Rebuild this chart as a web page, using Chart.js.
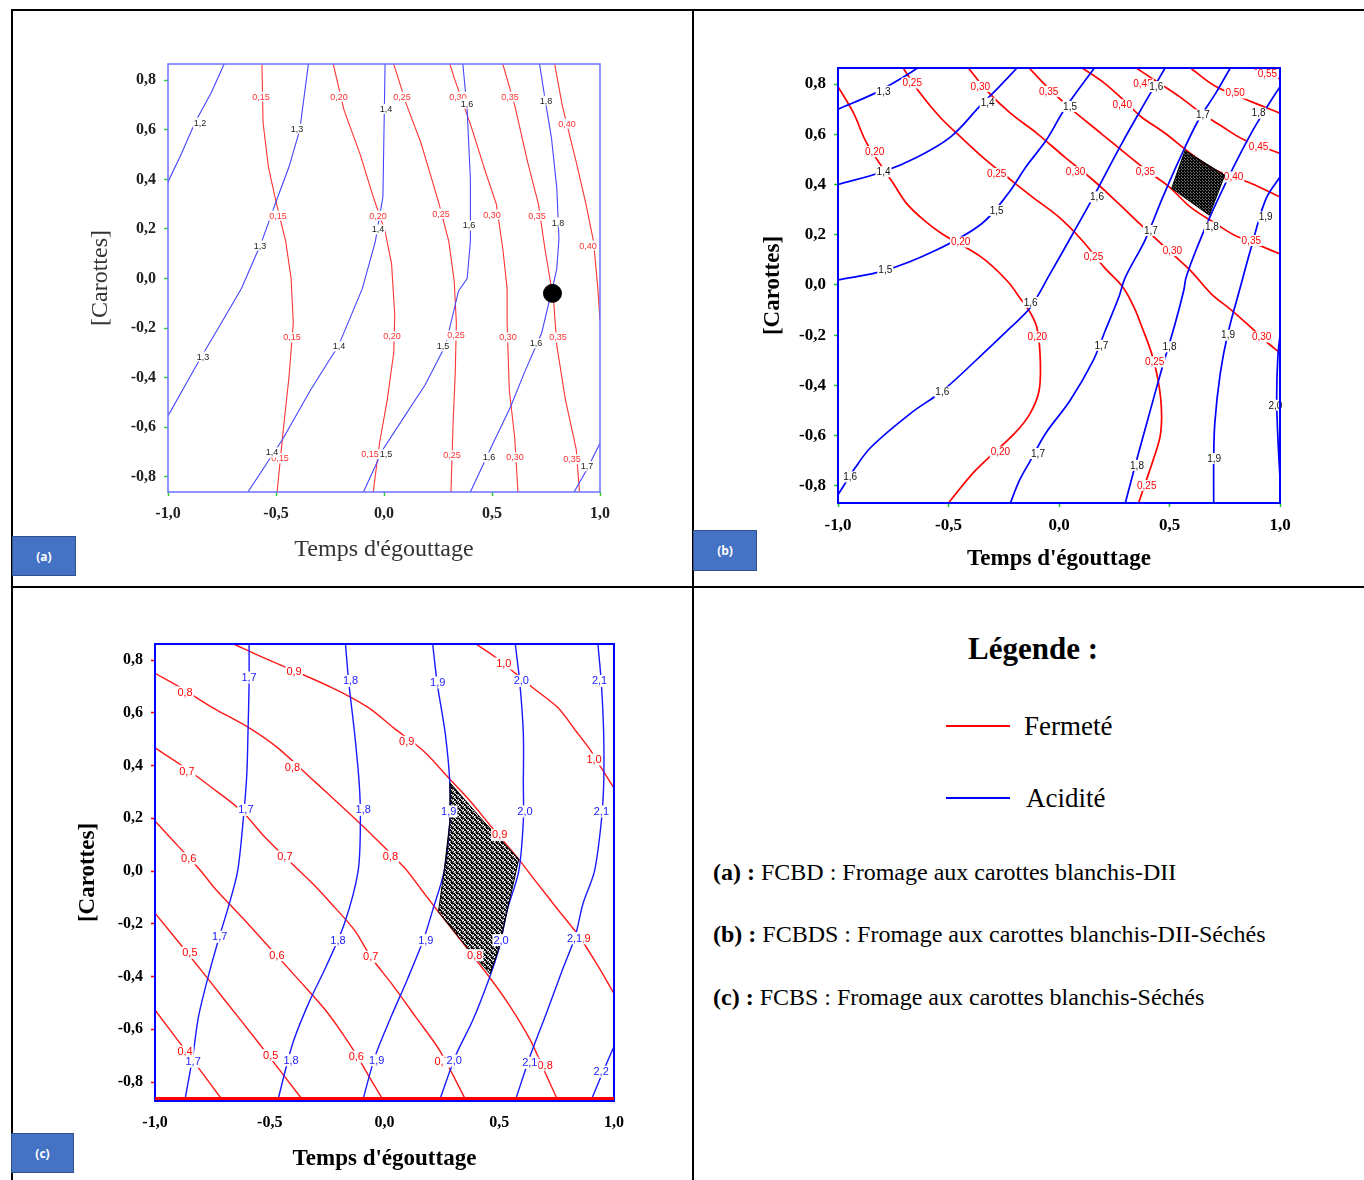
<!DOCTYPE html>
<html>
<head>
<meta charset="utf-8">
<script src="https://cdn.jsdelivr.net/npm/chart.js@4.4.1/dist/chart.umd.min.js"></script>
<style>
  body { margin: 0; width: 1364px; height: 1180px; position: relative; overflow: hidden; background: #fff; font-family: "Liberation Serif", serif; }
  .bl { position: absolute; background: #000; }
  .cv { position: absolute; }
  .tag { position: absolute; box-sizing: border-box; background: #4472c4; border: 1px solid #2f528f; color: #fff;
         font: bold 12px "Open Sans", "Liberation Sans", sans-serif; display: flex; align-items: center; justify-content: center; }
  .txt { position: absolute; white-space: nowrap; color: #000; }
  .key { position: absolute; width: 64px; height: 2px; }
</style>
</head>
<body>
<!-- table borders -->
<div class="bl" style="left:11px;top:9px;width:1353px;height:2px"></div>
<div class="bl" style="left:11px;top:9px;width:2px;height:1171px"></div>
<div class="bl" style="left:692px;top:9px;width:2px;height:1171px"></div>
<div class="bl" style="left:11px;top:586px;width:1353px;height:2px"></div>

<canvas id="ca" class="cv" width="620" height="550" style="left:40px;top:30px"></canvas>
<canvas id="cb" class="cv" width="620" height="550" style="left:700px;top:30px"></canvas>
<canvas id="cc" class="cv" width="640" height="570" style="left:20px;top:610px"></canvas>

<div class="tag" style="left:12px;top:536px;width:64px;height:40px">(a)</div>
<div class="tag" style="left:693px;top:530px;width:64px;height:41px">(b)</div>
<div class="tag" style="left:11px;top:1133px;width:63px;height:40px">(c)</div>

<!-- legend cell -->
<div class="txt" style="left:883px;top:631px;width:300px;text-align:center;font:bold 31px/36px 'Liberation Serif',serif">Légende :</div>
<div class="key" style="left:946px;top:725px;background:#ff0000"></div>
<div class="txt" style="left:1024px;top:710px;font:27px/32px 'Liberation Serif',serif">Fermeté</div>
<div class="key" style="left:946px;top:797px;background:#0000ff"></div>
<div class="txt" style="left:1026px;top:782px;font:27px/32px 'Liberation Serif',serif">Acidité</div>
<div class="txt" style="left:713px;top:857px;font:24px/30px 'Liberation Serif',serif"><b>(a) :</b> FCBD : Fromage aux carottes blanchis-DII</div>
<div class="txt" style="left:713px;top:919px;font:24px/30px 'Liberation Serif',serif"><b>(b) :</b> FCBDS : Fromage aux carottes blanchis-DII-Séchés</div>
<div class="txt" style="left:713px;top:982px;font:24px/30px 'Liberation Serif',serif"><b>(c) :</b> FCBS : Fromage aux carottes blanchis-Séchés</div>

<script>
// axes
const X_TICKS = [-1, -0.5, 0, 0.5, 1];
const Y_TICKS = [-0.8, -0.6, -0.4, -0.2, 0, 0.2, 0.4, 0.6, 0.8];
const X_TITLE = "Temps d'égouttage";
const Y_TITLE = "[Carottes]";

// ---- (a) FCBD ----
const aFermete = [ // 0,15 .. 0,40
  [[-0.565,0.866],[-0.56,0.63],[-0.535,0.45],[-0.50,0.31],[-0.455,0.15],[-0.43,0.0],[-0.42,-0.18],[-0.44,-0.4],[-0.455,-0.52],[-0.465,-0.6],[-0.495,-0.862]],
  [[-0.235,0.866],[-0.185,0.68],[-0.11,0.5],[-0.05,0.33],[0.005,0.19],[0.035,0.06],[0.05,-0.15],[0.045,-0.3],[0.015,-0.49],[-0.02,-0.66],[-0.05,-0.862]],
  [[0.045,0.866],[0.105,0.7],[0.17,0.55],[0.225,0.39],[0.255,0.3],[0.30,0.15],[0.325,-0.01],[0.335,-0.18],[0.33,-0.38],[0.32,-0.58],[0.31,-0.862]],
  [[0.305,0.866],[0.325,0.81],[0.405,0.61],[0.47,0.43],[0.52,0.3],[0.55,0.12],[0.57,-0.04],[0.57,-0.18],[0.58,-0.45],[0.605,-0.64],[0.62,-0.862]],
  [[0.55,0.866],[0.605,0.7],[0.665,0.47],[0.715,0.3],[0.745,0.12],[0.77,-0.01],[0.785,-0.085],[0.80,-0.27],[0.84,-0.49],[0.89,-0.69],[0.905,-0.862]],
  [[0.79,0.866],[0.825,0.7],[0.89,0.47],[0.935,0.3],[0.97,0.15],[0.99,-0.04],[1.0,-0.17]]
];
const aAcidite = [ // 1,2 .. 1,7
  [[-0.74,0.866],[-0.80,0.75],[-0.875,0.63],[-0.94,0.5],[-1.0,0.39]],
  [[-0.35,0.866],[-0.39,0.6],[-0.44,0.45],[-0.50,0.31],[-0.57,0.14],[-0.66,-0.04],[-0.76,-0.19],[-0.855,-0.33],[-1.0,-0.555]],
  [[0.005,0.866],[0.0,0.6],[-0.005,0.33],[-0.04,0.15],[-0.10,-0.04],[-0.21,-0.27],[-0.34,-0.45],[-0.47,-0.65],[-0.63,-0.862]],
  [[0.365,0.866],[0.385,0.68],[0.40,0.4],[0.40,0.15],[0.385,0.0],[0.345,-0.05],[0.285,-0.27],[0.19,-0.43],[0.085,-0.57],[-0.005,-0.69],[-0.095,-0.862]],
  [[0.72,0.866],[0.75,0.7],[0.775,0.57],[0.80,0.365],[0.81,0.16],[0.80,0.04],[0.78,-0.04],[0.76,-0.11],[0.73,-0.22],[0.65,-0.38],[0.585,-0.52],[0.505,-0.665],[0.40,-0.862]],
  [[1.0,-0.665],[0.94,-0.77],[0.88,-0.862]]
];
const aOptimum = [0.78, -0.06];
const aLabels = [
  [-0.569,0.734,"0,15","r"],[-0.208,0.734,"0,20","r"],[0.083,0.734,"0,25","r"],[0.343,0.734,"0,30","r"],[0.583,0.734,"0,35","r"],[0.847,0.625,"0,40","r"],
  [-0.852,0.629,"1,2","k"],[-0.403,0.605,"1,3","k"],[0.009,0.685,"1,4","k"],[0.384,0.706,"1,6","k"],[0.75,0.718,"1,8","k"],
  [-0.491,0.254,"0,15","r"],[-0.028,0.254,"0,20","r"],[0.264,0.262,"0,25","r"],[0.5,0.258,"0,30","r"],[0.708,0.254,"0,35","r"],[0.806,0.226,"1,8","k"],[0.944,0.133,"0,40","r"],
  [-0.574,0.133,"1,3","k"],[-0.028,0.198,"1,4","k"],[0.394,0.214,"1,6","k"],
  [-0.426,-0.238,"0,15","r"],[0.037,-0.234,"0,20","r"],[0.333,-0.23,"0,25","r"],[0.574,-0.238,"0,30","r"],[0.806,-0.238,"0,35","r"],
  [-0.838,-0.315,"1,3","k"],[-0.208,-0.274,"1,4","k"],[0.273,-0.274,"1,5","k"],[0.704,-0.262,"1,6","k"],
  [-0.481,-0.726,"0,15","r"],[-0.519,-0.702,"1,4","k"],[-0.065,-0.71,"0,15","r"],[0.009,-0.71,"1,5","k"],[0.315,-0.714,"0,25","r"],
  [0.486,-0.722,"1,6","k"],[0.606,-0.722,"0,30","r"],[0.87,-0.73,"0,35","r"],[0.94,-0.758,"1,7","k"]
];

// ---- (b) FCBDS ----
const bFermete = [ // 0,20 .. 0,55
  [[-1,0.79],[-0.93,0.685],[-0.87,0.565],[-0.75,0.405],[-0.69,0.325],[-0.61,0.257],[-0.53,0.204],[-0.35,0.11],[-0.235,0.017],[-0.17,-0.06],[-0.13,-0.11],[-0.10,-0.17],[-0.085,-0.29],[-0.09,-0.42],[-0.13,-0.51],[-0.20,-0.59],[-0.38,-0.74],[-0.5,-0.868]],
  [[-0.705,0.864],[-0.64,0.777],[-0.54,0.67],[-0.43,0.577],[-0.33,0.497],[-0.235,0.43],[-0.12,0.35],[0.0,0.27],[0.105,0.177],[0.205,0.07],[0.29,-0.01],[0.34,-0.09],[0.37,-0.155],[0.425,-0.29],[0.46,-0.45],[0.46,-0.59],[0.425,-0.70],[0.39,-0.79],[0.36,-0.868]],
  [[-0.41,0.864],[-0.33,0.777],[-0.22,0.684],[-0.10,0.604],[0.025,0.51],[0.155,0.417],[0.27,0.324],[0.365,0.244],[0.48,0.15],[0.595,0.057],[0.69,-0.036],[0.78,-0.10],[0.87,-0.17],[0.93,-0.22],[1.0,-0.27]],
  [[-0.135,0.864],[-0.055,0.79],[0.06,0.697],[0.19,0.604],[0.32,0.51],[0.415,0.444],[0.50,0.39],[0.595,0.31],[0.71,0.244],[0.79,0.20],[0.90,0.16],[1.0,0.124]],
  [[0.105,0.864],[0.205,0.804],[0.30,0.73],[0.37,0.671],[0.48,0.604],[0.595,0.524],[0.71,0.457],[0.87,0.404],[1.0,0.35]],
  [[0.35,0.864],[0.43,0.817],[0.545,0.75],[0.645,0.684],[0.74,0.63],[0.84,0.577],[1.0,0.524]],
  [[0.595,0.864],[0.71,0.79],[0.87,0.73],[1.0,0.684]],
  [[0.88,0.864],[1.0,0.82]]
];
const bAcidite = [ // 1,3 .. 2,0
  [[-1,0.70],[-0.83,0.765],[-0.70,0.83],[-0.64,0.864]],
  [[-1,0.40],[-0.80,0.45],[-0.64,0.51],[-0.49,0.59],[-0.36,0.71],[-0.27,0.79],[-0.19,0.864]],
  [[-1,0.02],[-0.79,0.057],[-0.56,0.137],[-0.35,0.244],[-0.23,0.364],[-0.15,0.47],[-0.055,0.58],[0.025,0.70],[0.16,0.864]],
  [[0.48,0.864],[0.385,0.72],[0.285,0.565],[0.155,0.35],[0.06,0.20],[-0.04,0.045],[-0.13,-0.09],[-0.22,-0.17],[-0.31,-0.245],[-0.525,-0.42],[-0.67,-0.51],[-0.85,-0.645],[-0.92,-0.725],[-1,-0.835]],
  [[0.775,0.864],[0.71,0.765],[0.63,0.655],[0.55,0.51],[0.465,0.34],[0.39,0.18],[0.30,0.03],[0.27,-0.05],[0.21,-0.18],[0.155,-0.30],[0.05,-0.46],[-0.06,-0.59],[-0.13,-0.70],[-0.18,-0.78],[-0.22,-0.868]],
  [[1.0,0.79],[0.935,0.70],[0.87,0.605],[0.79,0.47],[0.69,0.285],[0.625,0.15],[0.575,0.03],[0.565,-0.02],[0.525,-0.155],[0.46,-0.35],[0.405,-0.525],[0.355,-0.685],[0.30,-0.868]],
  [[1.0,0.43],[0.935,0.34],[0.87,0.15],[0.82,-0.01],[0.765,-0.19],[0.73,-0.35],[0.705,-0.55],[0.70,-0.70],[0.70,-0.868]],
  [[1.0,-0.20],[0.99,-0.29],[0.985,-0.45],[0.99,-0.6],[1.0,-0.77]]
];
const bZone = [[0.57,0.536],[0.75,0.437],[0.68,0.278],[0.51,0.385]];
const bLabels = [
  [-0.794,0.771,"1,3","k"],[-0.664,0.804,"0,25","r"],[-0.356,0.791,"0,30","r"],[-0.323,0.724,"1,4","k"],[-0.047,0.771,"0,35","r"],[0.05,0.711,"1,5","k"],
  [0.286,0.717,"0,40","r"],[0.38,0.80,"0,45","r"],[0.44,0.79,"1,6","k"],[0.797,0.764,"0,50","r"],[0.943,0.841,"0,55","r"],[0.651,0.677,"1,7","k"],
  [0.903,0.684,"1,8","k"],[0.903,0.551,"0,45","r"],
  [-0.834,0.531,"0,20","r"],[-0.794,0.451,"1,4","k"],[-0.282,0.444,"0,25","r"],[0.075,0.451,"0,30","r"],[0.391,0.451,"0,35","r"],[0.79,0.43,"0,40","r"],
  [-0.282,0.297,"1,5","k"],[0.172,0.351,"1,6","k"],[0.935,0.271,"1,9","k"],[-0.445,0.171,"0,20","r"],[0.156,0.111,"0,25","r"],[0.416,0.217,"1,7","k"],
  [0.692,0.231,"1,8","k"],[0.513,0.137,"0,30","r"],[0.87,0.177,"0,35","r"],[-0.786,0.06,"1,5","k"],[-0.128,-0.069,"1,6","k"],
  [-0.098,-0.207,"0,20","r"],[0.192,-0.24,"1,7","k"],[0.5,-0.246,"1,8","k"],[0.433,-0.306,"0,25","r"],[0.765,-0.2,"1,9","k"],[0.917,-0.207,"0,30","r"],
  [-0.528,-0.426,"1,6","k"],[0.979,-0.479,"2,0","k"],[-0.265,-0.665,"0,20","r"],[-0.095,-0.671,"1,7","k"],[0.353,-0.718,"1,8","k"],
  [0.702,-0.691,"1,9","k"],[0.397,-0.798,"0,25","r"],[-0.945,-0.764,"1,6","k"]
];

// ---- (c) FCBS ----
const cFermete = [ // 0,4 .. 1,0
  [[-1,-0.527],[-0.85,-0.70],[-0.705,-0.87]],
  [[-1,-0.16],[-0.85,-0.32],[-0.70,-0.485],[-0.55,-0.65],[-0.355,-0.87]],
  [[-1,0.19],[-0.89,0.086],[-0.80,0.0],[-0.735,-0.07],[-0.61,-0.186],[-0.47,-0.32],[-0.36,-0.426],[-0.255,-0.53],[-0.18,-0.62],[-0.12,-0.70],[-0.06,-0.79],[-0.005,-0.87]],
  [[-1,0.467],[-0.89,0.404],[-0.75,0.315],[-0.62,0.226],[-0.53,0.137],[-0.43,0.05],[-0.31,-0.05],[-0.22,-0.135],[-0.13,-0.225],[-0.06,-0.325],[0.03,-0.426],[0.135,-0.552],[0.24,-0.68],[0.355,-0.87]],
  [[-1,0.75],[-0.89,0.696],[-0.75,0.62],[-0.59,0.543],[-0.465,0.467],[-0.305,0.34],[-0.18,0.24],[-0.07,0.15],[0.09,0.01],[0.16,-0.07],[0.24,-0.16],[0.33,-0.26],[0.455,-0.40],[0.545,-0.51],[0.635,-0.64],[0.69,-0.745],[0.755,-0.87]],
  [[-0.655,0.86],[-0.53,0.81],[-0.23,0.696],[-0.07,0.62],[0.04,0.543],[0.17,0.455],[0.28,0.353],[0.375,0.264],[0.47,0.163],[0.58,0.05],[0.66,-0.04],[0.75,-0.14],[0.85,-0.25],[0.93,-0.36],[1.0,-0.465]],
  [[0.40,0.86],[0.485,0.81],[0.645,0.696],[0.755,0.62],[0.835,0.53],[0.90,0.455],[0.945,0.39],[1.0,0.315]]
];
const cAcidite = [ // 1,7 .. 2,2
  [[-0.59,0.86],[-0.59,0.71],[-0.595,0.52],[-0.60,0.366],[-0.615,0.2],[-0.64,0.0],[-0.68,-0.135],[-0.72,-0.25],[-0.765,-0.39],[-0.81,-0.55],[-0.835,-0.70],[-0.87,-0.87]],
  [[-0.17,0.86],[-0.155,0.71],[-0.13,0.52],[-0.11,0.33],[-0.105,0.19],[-0.115,0.0],[-0.175,-0.2],[-0.255,-0.363],[-0.33,-0.50],[-0.40,-0.654],[-0.465,-0.87]],
  [[0.21,0.86],[0.23,0.71],[0.265,0.52],[0.285,0.33],[0.285,0.19],[0.26,0.0],[0.21,-0.148],[0.17,-0.26],[0.10,-0.41],[0.03,-0.55],[-0.04,-0.70],[-0.095,-0.87]],
  [[0.57,0.86],[0.59,0.71],[0.605,0.52],[0.605,0.33],[0.605,0.19],[0.585,0.0],[0.535,-0.148],[0.50,-0.29],[0.455,-0.41],[0.385,-0.565],[0.31,-0.70],[0.24,-0.87]],
  [[0.93,0.86],[0.945,0.71],[0.955,0.52],[0.955,0.33],[0.945,0.19],[0.915,0.0],[0.865,-0.123],[0.83,-0.25],[0.775,-0.375],[0.705,-0.54],[0.635,-0.70],[0.57,-0.87]],
  [[1.0,-0.665],[0.955,-0.755],[0.90,-0.87]]
];
const cZone = [[0.285,0.335],[0.43,0.19],[0.585,0.045],[0.535,-0.148],[0.50,-0.29],[0.46,-0.39],[0.36,-0.29],[0.235,-0.155],[0.26,0.0],[0.285,0.19]];
const cLabels = [
  [-0.59,0.734,"1,7","b"],[-0.394,0.757,"0,9","r"],[-0.148,0.721,"1,8","b"],[0.232,0.715,"1,9","b"],[0.52,0.787,"1,0","r"],[0.596,0.721,"2,0","b"],[0.937,0.721,"2,1","b"],
  [-0.869,0.677,"0,8","r"],[0.097,0.49,"0,9","r"],[0.913,0.423,"1,0","r"],[-0.861,0.378,"0,7","r"],[-0.401,0.394,"0,8","r"],
  [-0.604,0.232,"1,7","b"],[-0.093,0.232,"1,8","b"],[0.28,0.226,"1,9","b"],[0.612,0.226,"2,0","b"],[0.945,0.226,"2,1","b"],
  [0.502,0.137,"0,9","r"],[-0.853,0.048,"0,6","r"],[-0.434,0.055,"0,7","r"],[0.026,0.055,"0,8","r"],
  [-0.718,-0.249,"1,7","b"],[-0.848,-0.31,"0,5","r"],[-0.469,-0.319,"0,6","r"],[-0.203,-0.262,"1,8","b"],[-0.06,-0.325,"0,7","r"],[0.18,-0.262,"1,9","b"],
  [0.393,-0.319,"0,8","r"],[0.508,-0.262,"2,0","b"],[0.865,-0.255,"0,9","r"],[0.828,-0.255,"2,1","b"],
  [-0.869,-0.685,"0,4","r"],[-0.834,-0.723,"1,7","b"],[-0.496,-0.698,"0,5","r"],[-0.407,-0.717,"1,8","b"],[-0.123,-0.704,"0,6","r"],[-0.034,-0.717,"1,9","b"],
  [0.251,-0.723,"0,7","r"],[0.304,-0.719,"2,0","b"],[0.70,-0.736,"0,8","r"],[0.633,-0.727,"2,1","b"],[0.944,-0.761,"2,2","b"]
];

const fmt = v => v.toFixed(1).replace('.', ',');

// scribble-like fill for the optimum zone
function hatch(ctx, size) {
  const c = document.createElement('canvas');
  c.width = c.height = size;
  const g = c.getContext('2d');
  g.strokeStyle = '#000';
  g.lineWidth = 1;
  g.beginPath();
  g.moveTo(0, 0); g.lineTo(size, size);
  g.moveTo(size, 0); g.lineTo(0, size);
  g.moveTo(0, size * 0.4); g.lineTo(size, size * 0.7);
  g.moveTo(size * 0.3, 0); g.lineTo(size * 0.6, size);
  g.stroke();
  return ctx.createPattern(c, 'repeat');
}

// zone, contour labels and blue frame drawn on top of the datasets
function overlay(o) {
  return {
    id: 'overlay',
    afterDatasetsDraw(chart) {
      const { ctx, chartArea: a, scales: { x, y } } = chart;
      ctx.save();
      const drawZone = () => {
        if (!o.zone) return;
        ctx.beginPath();
        o.zone.forEach(([vx, vy], i) => {
          const px = x.getPixelForValue(vx), py = y.getPixelForValue(vy);
          if (i) ctx.lineTo(px, py); else ctx.moveTo(px, py);
        });
        ctx.closePath();
        ctx.fillStyle = hatch(ctx, o.hatch);
        ctx.fill();
        ctx.strokeStyle = '#000';
        ctx.lineWidth = 1;
        ctx.stroke();
      };
      if (!o.zoneOnTop) drawZone();
      ctx.font = o.labelFont;
      ctx.textAlign = 'center';
      ctx.textBaseline = 'middle';
      o.labels.forEach(([vx, vy, t, c]) => {
        const px = x.getPixelForValue(vx), py = y.getPixelForValue(vy);
        const w = ctx.measureText(t).width + 2;
        ctx.fillStyle = '#fff';
        ctx.fillRect(px - w / 2, py - o.labelH / 2, w, o.labelH);
        ctx.fillStyle = o.ink[c];
        ctx.fillText(t, px, py + 0.5);
      });
      if (o.zoneOnTop) drawZone();
      ctx.strokeStyle = o.frame;
      ctx.lineWidth = o.frameW;
      ctx.strokeRect(a.left, a.top, a.right - a.left, a.bottom - a.top);
      if (o.redBase) {
        ctx.strokeStyle = '#ff0000';
        ctx.lineWidth = 3;
        ctx.beginPath();
        ctx.moveTo(a.left, a.bottom - 2.5);
        ctx.lineTo(a.right, a.bottom - 2.5);
        ctx.stroke();
      }
      ctx.restore();
    }
  };
}

function panel(id, o) {
  const line = (pts, color) => ({
    data: pts.map(p => ({ x: p[0], y: p[1] })),
    showLine: true, borderColor: color, borderWidth: o.lw,
    pointRadius: 0, tension: o.tension, fill: false
  });
  const datasets = [];
  if (o.dot) datasets.push({ data: [{ x: o.dot[0], y: o.dot[1] }], pointRadius: 9, pointBackgroundColor: '#000', pointBorderColor: '#000' });
  o.blue.forEach(l => datasets.push(line(l, o.blueColor)));
  o.red.forEach(l => datasets.push(line(l, o.redColor)));

  const axis = (ticks, markColor) => ({
    type: 'linear',
    afterBuildTicks: s => { s.ticks = ticks.map(v => ({ value: v })); },
    ticks: { callback: v => fmt(v), font: o.tickFont, color: o.tickColor, padding: o.tickPad, maxRotation: 0, autoSkip: false },
    grid: { drawOnChartArea: false, drawTicks: true, tickLength: 4, tickWidth: 1.5, tickColor: markColor },
    border: { display: false }
  });
  const x = axis(X_TICKS, o.xMark);
  x.min = -1; x.max = 1;
  x.afterFit = s => { s.height = o.xH; };
  x.title = { display: true, text: X_TITLE, font: o.titleFont, color: o.titleColor, padding: { top: 0, bottom: o.xTitlePad } };
  const y = axis(Y_TICKS, o.yMark);
  y.min = o.yRange[0]; y.max = o.yRange[1];
  y.afterFit = s => { s.width = o.yW; };
  y.title = { display: true, text: Y_TITLE, font: o.titleFont, color: o.titleColor, padding: { top: o.yTitlePad, bottom: 0 } };

  new Chart(document.getElementById(id), {
    type: 'scatter',
    data: { datasets },
    options: {
      responsive: false,
      animation: false,
      devicePixelRatio: 1,
      layout: { padding: { left: 0, top: o.padTop, right: o.padRight, bottom: 0 } },
      plugins: { legend: { display: false }, tooltip: { enabled: false } },
      scales: { x, y }
    },
    plugins: [overlay(o)]
  });
}

panel('ca', {
  red: aFermete, blue: aAcidite, dot: aOptimum, labels: aLabels, yRange: [-0.862, 0.866],
  redColor: '#ff3535', blueColor: '#4545ff', lw: 1.1, tension: 0,
  frame: '#6d6dff', frameW: 1.5,
  labelFont: '9px "Liberation Sans"', labelH: 10, ink: { r: '#ff3030', k: '#222' },
  tickFont: { family: 'Liberation Serif', size: 16, weight: 'bold' }, tickColor: '#222', tickPad: 8,
  xMark: '#33cc33', yMark: '#33cc33',
  titleFont: { family: 'Liberation Serif', size: 24 }, titleColor: '#333',
  padTop: 34, padRight: 60, yW: 128, xH: 88, yTitlePad: 46, xTitlePad: 16
});

panel('cb', {
  red: bFermete, blue: bAcidite, zone: bZone, hatch: 3, zoneOnTop: true, labels: bLabels, yRange: [-0.868, 0.864],
  redColor: '#ff0000', blueColor: '#0000ff', lw: 1.7, tension: 0.35,
  frame: '#0000ff', frameW: 2,
  labelFont: '10px "Liberation Sans"', labelH: 11, ink: { r: '#ff0000', k: '#111' },
  tickFont: { family: 'Liberation Serif', size: 17, weight: 'bold' }, tickColor: '#000', tickPad: 8,
  xMark: '#22cc22', yMark: '#22cc22',
  titleFont: { family: 'Liberation Serif', size: 23, weight: 'bold' }, titleColor: '#000',
  padTop: 38, padRight: 40, yW: 138, xH: 77, yTitlePad: 59, xTitlePad: 7
});

panel('cc', {
  red: cFermete, blue: cAcidite, zone: cZone, hatch: 5, zoneOnTop: false, labels: cLabels, yRange: [-0.872, 0.861],
  redColor: '#ff1a1a', blueColor: '#1a1aff', lw: 1.4, tension: 0.3,
  frame: '#0000ff', frameW: 2, redBase: true,
  labelFont: '11px "Liberation Sans"', labelH: 12, ink: { r: '#ff0000', b: '#2020ff' },
  tickFont: { family: 'Liberation Serif', size: 16, weight: 'bold' }, tickColor: '#000', tickPad: 8,
  xMark: 'rgba(0,0,0,0)', yMark: '#ff0000',
  titleFont: { family: 'Liberation Serif', size: 23, weight: 'bold' }, titleColor: '#000',
  padTop: 34, padRight: 46, yW: 135, xH: 79, yTitlePad: 54, xTitlePad: 7
});
</script>
</body>
</html>
